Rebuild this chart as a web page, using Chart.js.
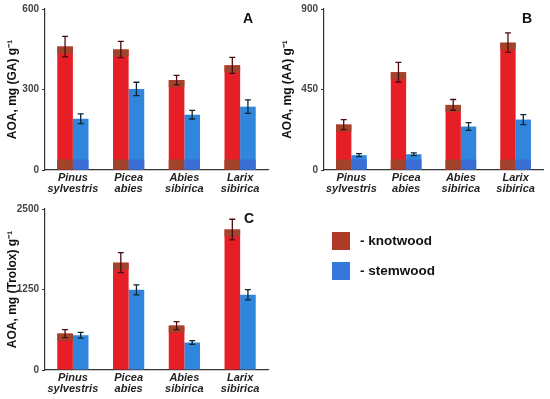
<!DOCTYPE html>
<html>
<head>
<meta charset="utf-8">
<script src="https://cdn.jsdelivr.net/npm/chart.js@4.4.0/dist/chart.umd.min.js"></script>
<style>
  body { margin: 0; background: #fff; font-family: "Liberation Sans", Arial, sans-serif; }
  #wrap { position: relative; width: 550px; height: 399px; overflow: hidden; }
  .box { position: absolute; }
  .letter { position: absolute; font-weight: bold; font-size: 14px; color: #111; }
  .legend { position: absolute; left: 332px; font-weight: bold; font-size: 13.5px; color: #111; }
  .legend span.sw { display: inline-block; width: 18px; height: 18px; vertical-align: middle; margin-right: 10px; }
</style>
</head>
<body>
<div id="wrap">
  <div class="box" style="left:0;top:0;width:275px;height:200px"><canvas id="chartA"></canvas></div>
  <div class="box" style="left:275px;top:0;width:275px;height:200px"><canvas id="chartB"></canvas></div>
  <div class="box" style="left:0;top:200px;width:275px;height:199px"><canvas id="chartC"></canvas></div>
  <div class="letter" style="left:243px;top:10px">A</div>
  <div class="letter" style="left:522px;top:10px">B</div>
  <div class="letter" style="left:244px;top:210px">C</div>
  <div class="legend" style="top:232px"><span class="sw" style="background:#b03a28"></span>- knotwood</div>
  <div class="legend" style="top:262px"><span class="sw" style="background:#3478dc"></span>- stemwood</div>
</div>
<script>
const species = [['Pinus', 'sylvestris'], ['Picea', 'abies'], ['Abies', 'sibirica'], ['Larix', 'sibirica']];

// A: mg(GA)/g
const knotA = [460, 449, 335, 390];
const knotErrA = [38, 30, 18, 30];
const stemA = [191, 302, 206, 236];
const stemErrA = [18, 25, 16, 25];

// B: mg(AA)/g
const knotB = [254, 547, 364, 712];
const knotErrB = [28, 55, 30, 55];
const stemB = [83, 88, 243, 282];
const stemErrB = [8, 8, 22, 28];

// C: mg(Trolox)/g
const knotC = [566, 1667, 690, 2181];
const knotErrC = [62, 155, 62, 160];
const stemC = [540, 1245, 427, 1168];
const stemErrC = [45, 77, 30, 80];

const knotColor = '#e61f26';
const stemColor = '#2f86dc';

// darker bands on the bars + error bars, placed from the bar elements and y scale
const barExtras = {
    id: 'barExtras',
    afterDatasetsDraw(chart, args, opts) {
        const ctx = chart.ctx;
        const yScale = chart.scales.y;
        chart.data.datasets.forEach((ds, i) => {
            const meta = chart.getDatasetMeta(i);
            meta.data.forEach((bar, j) => {
                const left = bar.x - bar.width / 2;
                ctx.save();
                if (ds.capColor) {
                    ctx.fillStyle = ds.capColor;
                    ctx.fillRect(left, bar.y, bar.width, 7);
                }
                if (opts.bottomBand) {
                    ctx.fillStyle = ds.bandColor;
                    ctx.fillRect(left, bar.base - 10, bar.width, 10);
                }
                const v = ds.data[j];
                const e = ds.errors[j];
                const yTop = yScale.getPixelForValue(v + e);
                const yBot = yScale.getPixelForValue(v - e);
                ctx.strokeStyle = ds.errColor;
                ctx.lineWidth = 1.3;
                ctx.beginPath();
                ctx.moveTo(bar.x, yTop);
                ctx.lineTo(bar.x, yBot);
                ctx.moveTo(bar.x - 3, yTop);
                ctx.lineTo(bar.x + 3, yTop);
                ctx.moveTo(bar.x - 3, yBot);
                ctx.lineTo(bar.x + 3, yBot);
                ctx.stroke();
                ctx.restore();
            });
        });
    }
};

function makeChart(id, knot, knotErr, stem, stemErr, maxY, step, title, yWidth, padTop, xHeight, bottomBand) {
    const ctx = document.getElementById(id).getContext('2d');
    return new Chart(ctx, {
        type: 'bar',
        data: {
            labels: species,
            datasets: [{
                label: 'knotwood',
                data: knot,
                errors: knotErr,
                errColor: '#4a0c10',
                capColor: '#a2432c',
                bandColor: '#a2432c',
                backgroundColor: knotColor,
                categoryPercentage: 0.56,
                barPercentage: 1.0
            }, {
                label: 'stemwood',
                data: stem,
                errors: stemErr,
                errColor: '#0d2630',
                bandColor: '#3a6ed6',
                backgroundColor: stemColor,
                categoryPercentage: 0.56,
                barPercentage: 1.0
            }]
        },
        options: {
            responsive: true,
            maintainAspectRatio: false,
            animation: false,
            layout: { padding: { top: padTop, right: 7, left: 0, bottom: 0 } },
            plugins: {
                legend: { display: false },
                tooltip: { enabled: false },
                barExtras: { bottomBand: bottomBand }
            },
            scales: {
                x: {
                    grid: { display: false, drawTicks: false, tickLength: 0 },
                    border: { display: true, color: '#333', width: 1.2 },
                    ticks: {
                        color: '#222',
                        font: { family: 'Liberation Sans', size: 11, weight: 'bold', style: 'italic', lineHeight: 1.05 },
                        padding: 2,
                        maxRotation: 0
                    },
                    afterFit(scale) { scale.height = xHeight; }
                },
                y: {
                    min: 0,
                    max: maxY,
                    ticks: {
                        stepSize: step,
                        color: '#444',
                        font: { family: 'Liberation Sans', size: 10, weight: 'bold' },
                        padding: 3,
                        callback: (v) => String(v)
                    },
                    grid: { drawOnChartArea: false, drawTicks: true, tickLength: 3, color: '#333' },
                    border: { display: true, color: '#333', width: 1.2 },
                    title: {
                        display: true,
                        text: title,
                        color: '#111',
                        font: { family: 'Liberation Sans', size: 12, weight: 'bold' },
                        padding: { top: 5, bottom: 0 }
                    },
                    afterFit(scale) { scale.width = yWidth; }
                }
            }
        },
        plugins: [barExtras]
    });
}

makeChart('chartA', knotA, knotErrA, stemA, stemErrA, 600, 300, 'AOA, mg (GA) g\u207B\u00B9', 45, 7, 30, true);
makeChart('chartB', knotB, knotErrB, stemB, stemErrB, 900, 450, 'AOA, mg (AA) g\u207B\u00B9', 49, 7, 30, true);
makeChart('chartC', knotC, knotErrC, stemC, stemErrC, 2500, 1250, 'AOA, mg (Trolox) g\u207B\u00B9', 45, 8, 29, false);
</script>
</body>
</html>
